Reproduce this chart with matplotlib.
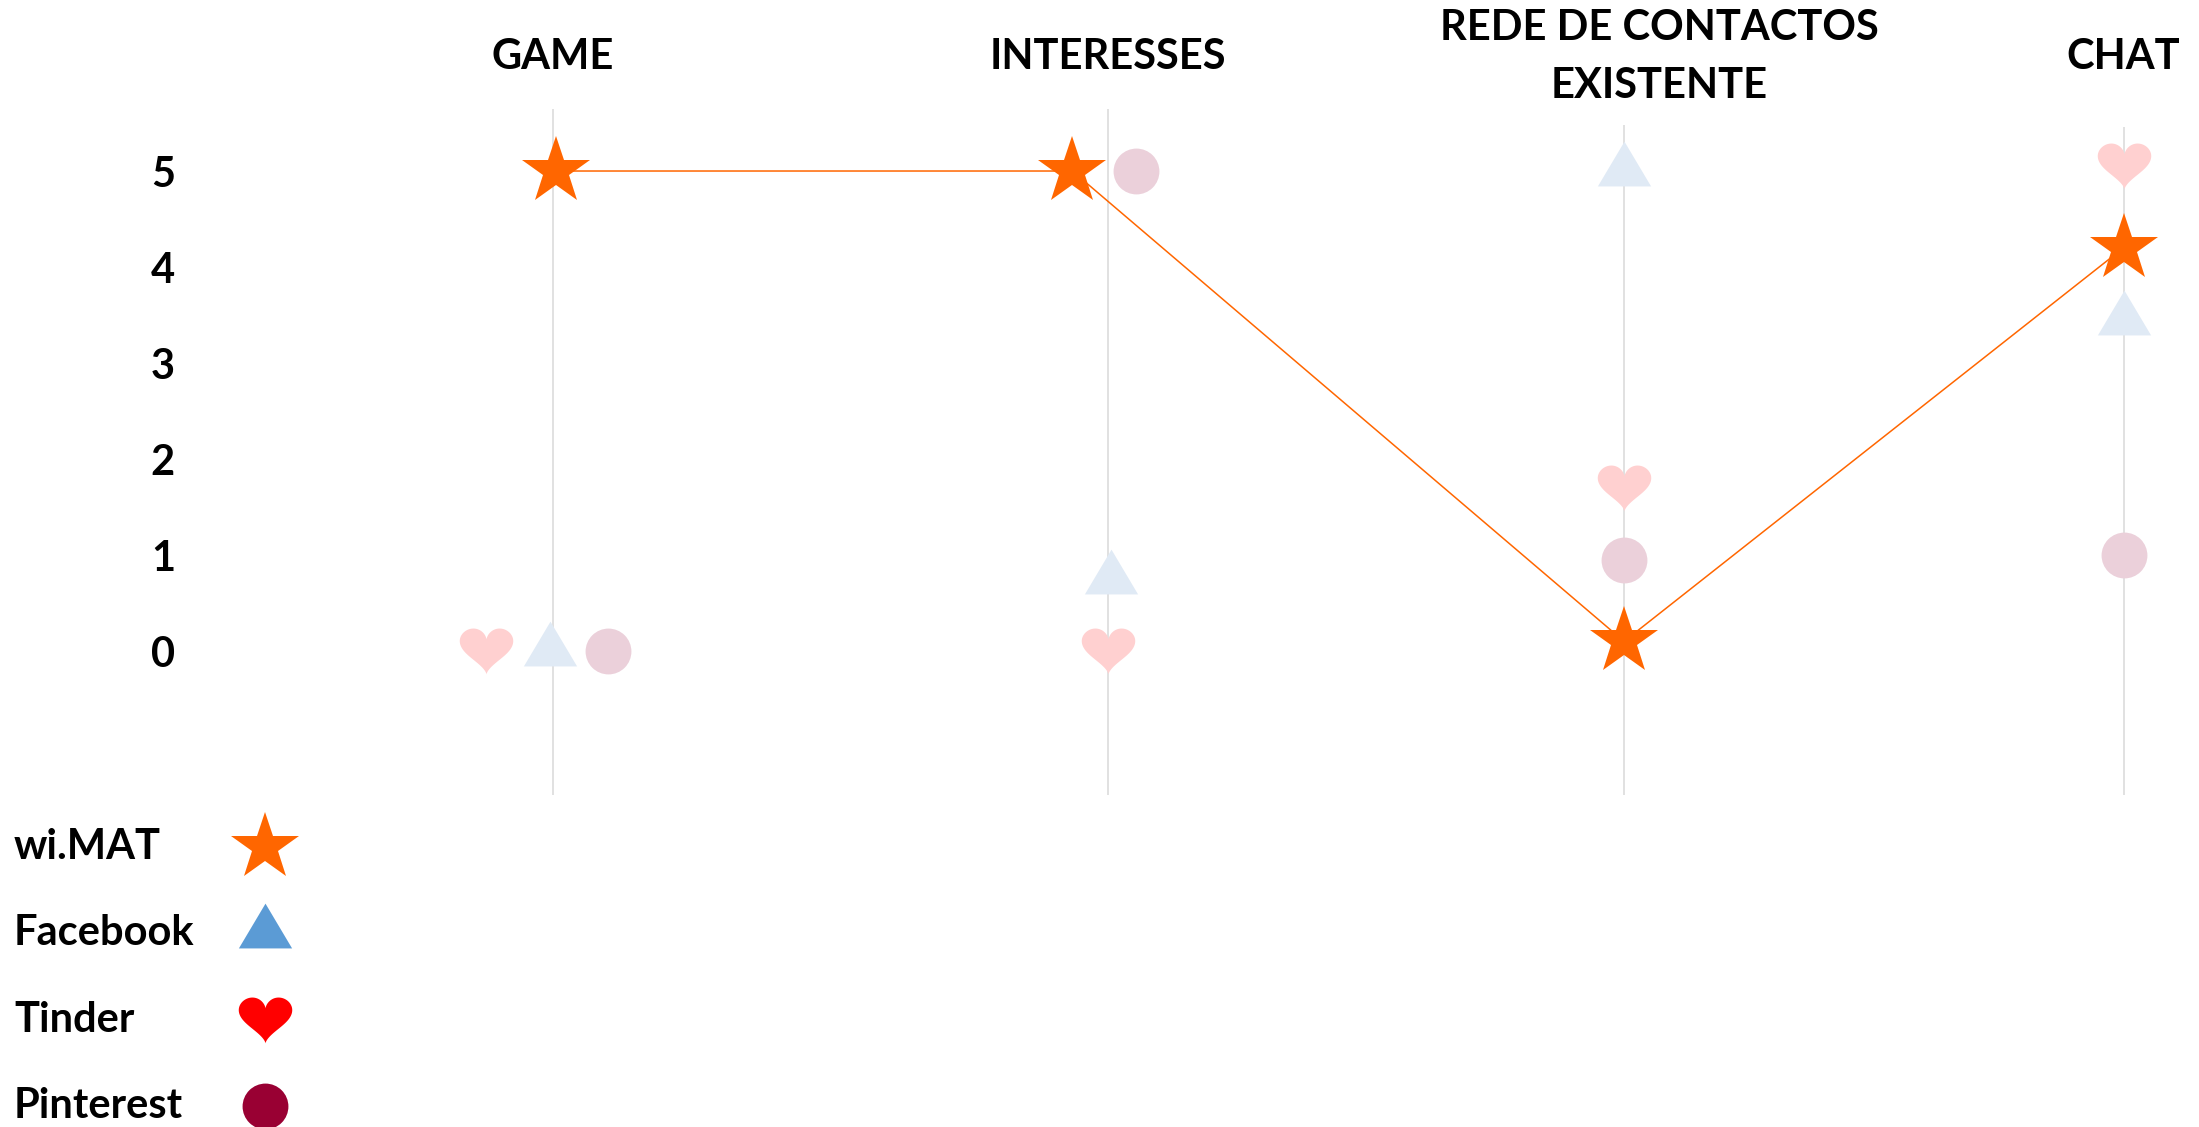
import numpy as np
import matplotlib.pyplot as plt
import matplotlib.transforms as mtransforms
from matplotlib.path import Path

plt.rcParams['font.family'] = ['Lato', 'DejaVu Sans']
plt.rcParams['font.weight'] = 'bold'

# data
categories = ["GAME", "INTERESSES", "REDE DE CONTACTOS\nEXISTENTE", "CHAT"]
cat_pos = [1.0, 2.0, 2.93, 3.83]
wimat = [5, 5, 0.1, 4.2]
facebook = [0, 0.75, 5, 3.45]
tinder = [0, 0, 1.7, 5.05]
pinterest = [0, 5, 0.95, 1.0]
y_ticks = [0, 1, 2, 3, 4, 5]

# small sideways shifts so overlapping points stay visible
dodge = {
    "wi.MAT": [0.005, -0.064, 0, 0],
    "Facebook": [-0.005, 0.005, 0, 0],
    "Tinder": [-0.12, 0, 0, 0],
    "Pinterest": [0.10, 0.05, 0, 0],
}
label_dx = [0, 0, 0.063, 0]
line_top = [5.646, 5.646, 5.48, 5.46]

# heart marker
t = np.linspace(0, 2 * np.pi, 200)
hx = 16 * np.sin(t) ** 3
hy = 13 * np.cos(t) - 5 * np.cos(2 * t) - 2 * np.cos(3 * t) - np.cos(4 * t)
hy = hy * 0.95
hy = hy - (hy.max() + hy.min()) / 2
heart = Path(np.column_stack([hx, hy]), closed=True)

# triangle centred on its centroid (like the original chart)
tri = Path([[0, 2 * 44.6 / 3], [-26.5, -44.6 / 3], [26.5, -44.6 / 3], [0, 2 * 44.6 / 3]],
           closed=True)

series = [
    ("Facebook", facebook, tri, 43, '#E0EAF5', '#5B9BD5'),
    ("Tinder", tinder, heart, 38.5, '#FFD0D0', '#FF0000'),
    ("Pinterest", pinterest, 'o', 33, '#EBD0DA', '#990033'),
]

fig = plt.figure(figsize=(21.99, 11.27), dpi=100)
ax = fig.add_axes([200 / 2199, 332 / 1127, 1999 / 2199, 686 / 1127])
ax.set_xlim(0.364, 3.966)
ax.set_ylim(-1.5, 5.646)

ax.vlines(cat_pos, -1.5, line_top, color='#D9D9D9', lw=1.1, zorder=1)

for name, vals, mk, ms, col, _ in series:
    xs = np.array(cat_pos) + np.array(dodge[name])
    ax.plot(xs, vals, linestyle='none', marker=mk, markersize=ms,
            color=col, markeredgewidth=0, zorder=2)

xs = np.array(cat_pos) + np.array(dodge["wi.MAT"])
ax.plot(xs, wimat, '-', color='#FF6600', lw=1.1, marker='*', markersize=51,
        markeredgewidth=0, zorder=3)

ax.set_yticks(y_ticks)
ax.set_yticklabels([str(v) for v in y_ticks], fontsize=30, fontweight='bold')
ax.tick_params(axis='y', length=0, pad=18)
ax.set_xticks([])
for s in ax.spines.values():
    s.set_visible(False)

trans = mtransforms.blended_transform_factory(ax.transData, fig.transFigure)
for x, lab, dx in zip(cat_pos, categories, label_dx):
    ax.text(x + dx, 1 - 57 / 1127, lab, transform=trans, ha='center', va='center',
            fontsize=30, fontweight='bold', linespacing=1.65)

# legend drawn by hand: text left, marker right
lax = fig.add_axes([0, 0, 400 / 2199, 338 / 1127])
lax.set_xlim(0, 400)
lax.set_ylim(3.244, -0.672)
lax.axis('off')
legend_items = [("wi.MAT", '*', 51, '#FF6600')] + [(n, m, s, c) for n, _, m, s, _, c in series]
for i, (name, mk, ms, col) in enumerate(legend_items):
    lax.text(14, i, name, ha='left', va='center', fontsize=30, fontweight='bold')
    lax.plot([265], [i], marker=mk, markersize=ms, color=col, markeredgewidth=0,
             clip_on=False)

fig.savefig("out.png")
